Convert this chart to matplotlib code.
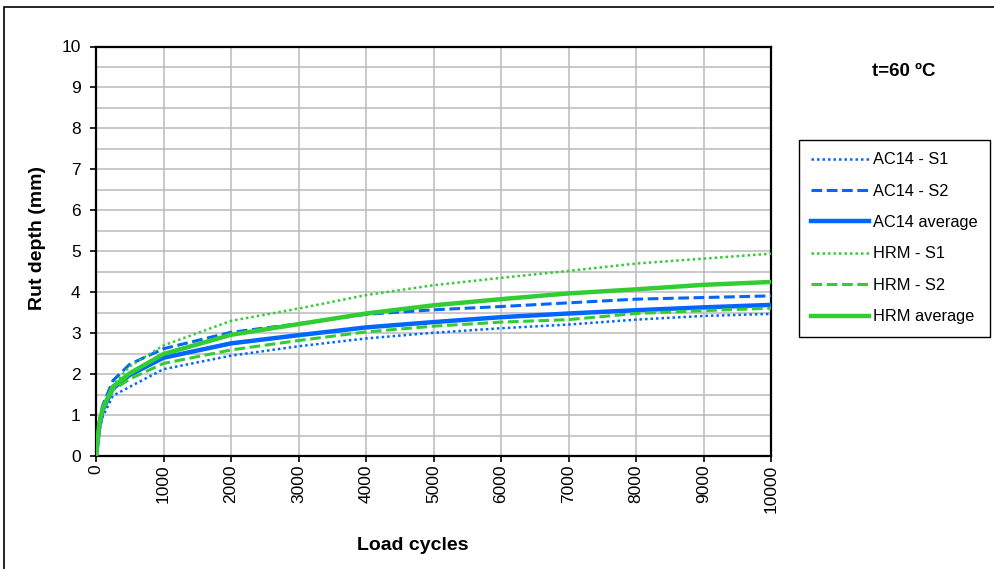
import matplotlib
matplotlib.use("Agg")
import matplotlib.pyplot as plt
from matplotlib.patches import Rectangle

plt.rcParams['font.family'] = ['Liberation Sans', 'DejaVu Sans']

cycles = [0, 50, 100, 250, 500, 1000, 2000, 3000, 4000, 5000, 6000, 7000, 8000, 9000, 10000]
ac14_s1 = [0, 0.61, 0.96, 1.47, 1.69, 2.12, 2.45, 2.68, 2.87, 3.01, 3.12, 3.21, 3.33, 3.42, 3.47]
ac14_s2 = [0, 0.87, 1.24, 1.84, 2.24, 2.62, 3.02, 3.23, 3.46, 3.57, 3.65, 3.74, 3.83, 3.87, 3.91]
ac14_avg = [0, 0.76, 1.12, 1.65, 1.98, 2.40, 2.75, 2.95, 3.14, 3.27, 3.39, 3.48, 3.56, 3.63, 3.69]
hrm_s1 = [0, 0.80, 1.17, 1.73, 2.19, 2.70, 3.30, 3.60, 3.93, 4.17, 4.35, 4.52, 4.70, 4.82, 4.94]
hrm_s2 = [0, 0.76, 1.12, 1.61, 1.88, 2.26, 2.59, 2.82, 3.03, 3.17, 3.27, 3.33, 3.48, 3.55, 3.61]
hrm_avg = [0, 0.80, 1.17, 1.69, 2.02, 2.49, 2.96, 3.22, 3.48, 3.68, 3.83, 3.97, 4.07, 4.18, 4.25]

labels = ['AC14 - S1', 'AC14 - S2', 'AC14 average', 'HRM - S1', 'HRM - S2', 'HRM average']
xticks = list(range(0, 10001, 1000))
yticks = list(range(0, 11))

blue = '#0066FF'
green = '#33CC33'

W, H = 995, 569
fig = plt.figure(figsize=(W / 100, H / 100), dpi=100)
ax = fig.add_axes([96 / W, 1 - 456 / H, (771 - 96) / W, (456 - 46.5) / H])

series = [ac14_s1, ac14_s2, ac14_avg, hrm_s1, hrm_s2, hrm_avg]
colors = [blue, blue, blue, green, green, green]
styles = [(0, (1, 1.2)), (0, (3.5, 1.5)), '-', (0, (1, 1.2)), (0, (3.5, 1.5)), '-']
widths = [1.8, 2.2, 3.2, 1.8, 2.2, 3.2]
for s, c, ls, lw, lab in zip(series, colors, styles, widths, labels):
    ax.plot(cycles, s, color=c, linestyle=ls, linewidth=lw, label=lab, zorder=3)

ax.set_xlim(0, 10000)
ax.set_ylim(0, 10)
ax.set_xticks(xticks)
ax.set_xticklabels([str(t) for t in xticks], rotation=90, fontsize=12.5)
ax.set_yticks(yticks)
ax.set_yticklabels([str(t) for t in yticks], fontsize=12.5)
ax.set_yticks([i + 0.5 for i in range(10)], minor=True)
ax.grid(True, which='major', color='#BBBBBB', linewidth=1.1, zorder=0)
ax.grid(True, which='minor', axis='y', color='#BBBBBB', linewidth=1.1, zorder=0)
ax.tick_params(axis='both', which='major', direction='out', length=4, width=1.2, color='black')
ax.tick_params(axis='x', which='major', pad=2)
ax.tick_params(axis='y', which='major', pad=7)
ax.tick_params(axis='y', which='minor', length=0)
for sp in ax.spines.values():
    sp.set_color('black')
    sp.set_linewidth(1.6)

fig.text(413 / W, 1 - 545 / H, 'Load cycles', fontsize=14, fontweight='bold', ha='center', va='center')
fig.text(38 / W, 1 - 238 / H, 'Rut depth (mm)', fontsize=14, fontweight='bold', ha='center', va='center',
         rotation=90)

fig.text(904 / W, 1 - 72 / H, 't=60 ºC', fontsize=13.5, fontweight='bold', ha='center', va='center')

leg = fig.legend(loc='upper left', bbox_to_anchor=(799 / W, 1 - 140 / H), fontsize=11.8,
                 frameon=True, fancybox=False, edgecolor='black', framealpha=1,
                 handlelength=3.5, handletextpad=0.25, labelspacing=1.0,
                 borderpad=0.75, borderaxespad=0)
leg.get_frame().set_linewidth(1.0)

fig.patches.append(Rectangle((4 / W, -0.1), 1.2, 1 - 7 / H + 0.1, transform=fig.transFigure,
                             fill=False, edgecolor='black', linewidth=1.2))

fig.savefig('out.png', dpi=100)
